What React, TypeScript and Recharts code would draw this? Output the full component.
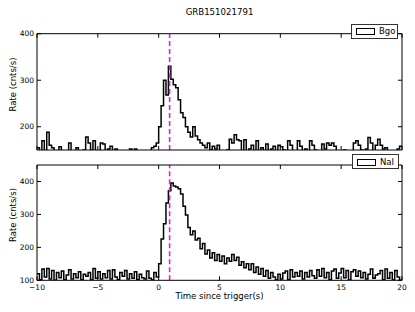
import React from "react";
import { LineChart, Line, XAxis, YAxis, ReferenceLine, Legend } from "recharts";

const BIN_START = -10;
const BIN_WIDTH = 0.2;
const X_END = 20;
const TRIGGER_MARK = 0.9;

const X_TICKS = [-10, -5, 0, 5, 10, 15, 20];
const BGO_Y_TICKS = [200, 300, 400];
const NAI_Y_TICKS = [100, 200, 300, 400];

const BGO = [
  155, 142, 170, 140, 188, 160, 155, 140, 145, 157,
  140, 146, 142, 165, 140, 148, 155, 140, 143, 150,
  178, 165, 150, 170, 145, 142, 165, 163, 145, 152,
  158, 140, 152, 145, 140, 148, 143, 146, 152, 140,
  152, 144, 140, 146, 142, 148, 145, 155, 158, 165,
  200, 245, 300, 268, 330, 302, 290, 284, 258, 230,
  220, 200, 188, 178, 200, 180, 172, 165, 160, 155,
  165, 150, 158, 152, 160, 145, 148, 142, 150, 173,
  165, 183, 172, 170, 148, 172, 145, 152, 160, 145,
  170, 148, 155, 142, 163, 145, 152, 158, 145, 160,
  157, 150, 145, 170, 160, 146, 142, 170, 158, 148,
  152, 146, 170, 160, 150, 148, 144, 163, 152, 165,
  160, 165, 158, 146, 142, 148, 150, 144, 146, 140,
  165, 170, 160, 150, 145, 152, 177, 165, 145, 160,
  173, 160, 152, 155, 148, 145, 142, 148, 152, 158,
];

const NAI = [
  120, 102, 134, 110, 136, 104, 130, 100, 124, 108,
  128, 102, 116, 132, 104, 120, 108, 126, 102, 118,
  112, 124, 102, 136, 106, 126, 104, 120, 108, 130,
  104, 132, 110, 102, 124, 112, 130, 104, 120, 106,
  126, 102, 118, 108, 104, 128, 106, 102, 124, 110,
  150, 225, 272, 335, 372, 395, 386, 383, 378, 362,
  325, 298, 260, 238, 250, 222, 228, 196, 212, 180,
  192, 168, 184, 160, 178, 158, 174, 150, 168, 158,
  178, 160, 170, 146, 156, 138, 150, 132, 150, 124,
  140, 118, 136, 112, 130, 106, 124, 110, 102, 118,
  104, 122, 128, 102, 132, 110, 124, 112, 128, 104,
  124, 110, 130, 114, 106, 132, 112, 136, 108, 124,
  102, 128, 134, 106, 122, 136, 108, 130, 102, 126,
  132, 112, 128, 108, 124, 104, 118, 134, 106, 116,
  120, 130, 102, 134, 106, 124, 102, 130, 110, 100,
];

const rows = BGO.map((b, i) => ({
  t: Math.round((BIN_START + i * BIN_WIDTH) * 10) / 10,
  bgo: b,
  nai: NAI[i],
}));
rows.push({ t: X_END, bgo: BGO[BGO.length - 1], nai: NAI[NAI.length - 1] });

const FONT = "'DejaVu Sans', sans-serif";
const TICK_FS = 7.5;
const LABEL_FS = 8.5;

const fmt = (v: number) => (v < 0 ? "\u2212" + Math.abs(v) : String(v));

const XTickBottom = (props: any) => {
  const { x, y, payload, showLabel } = props;
  return (
    <g>
      <line x1={x} y1={y} x2={x} y2={y - 4} stroke="#000" strokeWidth={1} />
      {showLabel && (
        <text x={x} y={y + 9.5} textAnchor="middle" fontSize={TICK_FS} fontFamily={FONT} fill="#000">
          {fmt(payload.value)}
        </text>
      )}
    </g>
  );
};

const XTickTop = (props: any) => {
  const { x, y } = props;
  return <line x1={x} y1={y} x2={x} y2={y + 4} stroke="#000" strokeWidth={1} />;
};

const YTickLeft = (props: any) => {
  const { x, y, payload } = props;
  return (
    <g>
      <line x1={x} y1={y} x2={x + 4} y2={y} stroke="#000" strokeWidth={1} />
      <text x={x - 3} y={y + 2.7} textAnchor="end" fontSize={TICK_FS} fontFamily={FONT} fill="#000">
        {payload.value}
      </text>
    </g>
  );
};

const YTickRight = (props: any) => {
  const { x, y } = props;
  return <line x1={x} y1={y} x2={x - 4} y2={y} stroke="#000" strokeWidth={1} />;
};

const LegendBox = ({ label }: { label: string }) => (
  <div
    style={{
      border: "1px solid #333",
      background: "#fff",
      width: 47,
      height: 15,
      boxSizing: "border-box",
      position: "relative",
      fontFamily: FONT,
      fontSize: LABEL_FS,
    }}
  >
    <div
      style={{
        position: "absolute",
        left: 4,
        top: 3.5,
        width: 17,
        height: 5,
        border: "1.3px solid #000",
        background: "#fff",
      }}
    />
    <div style={{ position: "absolute", left: 27, top: 1.5, lineHeight: "10px" }}>{label}</div>
  </div>
);

const axisLine = { stroke: "#000", strokeWidth: 1 };

function Panel(props: {
  dataKey: string;
  name: string;
  yDomain: [number, number];
  yTicks: number[];
  height: number;
  margin: any;
  bottomAxisHeight: number;
  showXLabels: boolean;
  legendTop: number;
  legendLeft: number;
}) {
  const { dataKey, name, yDomain, yTicks, height, margin, bottomAxisHeight, showXLabels, legendTop, legendLeft } = props;
  return (
    <LineChart width={415} height={height} data={rows} margin={margin}>
      <XAxis
        dataKey="t"
        type="number"
        domain={[-10, 20]}
        ticks={X_TICKS}
        interval={0}
        allowDataOverflow
        height={bottomAxisHeight}
        tickSize={0}
        tickMargin={0}
        axisLine={axisLine}
        tickLine={false}
        tick={<XTickBottom showLabel={showXLabels} />}
      />
      <XAxis
        xAxisId="top"
        orientation="top"
        dataKey="t"
        type="number"
        domain={[-10, 20]}
        ticks={X_TICKS}
        interval={0}
        allowDataOverflow
        height={1}
        tickSize={0}
        tickMargin={0}
        axisLine={axisLine}
        tickLine={false}
        tick={<XTickTop />}
      />
      <YAxis
        type="number"
        domain={yDomain}
        ticks={yTicks}
        interval={0}
        allowDataOverflow
        width={37}
        tickSize={0}
        tickMargin={0}
        axisLine={axisLine}
        tickLine={false}
        tick={<YTickLeft />}
      />
      <YAxis
        yAxisId="right"
        orientation="right"
        type="number"
        domain={yDomain}
        ticks={yTicks}
        interval={0}
        allowDataOverflow
        width={1}
        tickSize={0}
        tickMargin={0}
        axisLine={axisLine}
        tickLine={false}
        tick={<YTickRight />}
      />
      <Legend
        verticalAlign="top"
        align="right"
        wrapperStyle={{ position: "absolute", top: legendTop, left: legendLeft, width: 47, height: 15 }}
        content={() => <LegendBox label={name} />}
      />
      <Line
        type="stepAfter"
        dataKey={dataKey}
        name={name}
        stroke="#000"
        strokeWidth={1.5}
        dot={false}
        activeDot={false}
        isAnimationActive={false}
      />
      <ReferenceLine
        x={TRIGGER_MARK}
        stroke="#dd22dd"
        strokeWidth={1.6}
        strokeDasharray="5 3"
        ifOverflow="hidden"
      />
    </LineChart>
  );
}

export default function App() {
  return (
    <div style={{ position: "absolute", left: 0, top: 0, width: 415, height: 312, background: "#fff", overflow: "hidden" }}>
      <div style={{ position: "absolute", left: 0, top: 0 }}>
        <Panel
          dataKey="bgo"
          name="Bgo"
          yDomain={[150, 400]}
          yTicks={BGO_Y_TICKS}
          height={151}
          margin={{ top: 17.7, right: 12, left: 0, bottom: 0 }}
          bottomAxisHeight={1}
          showXLabels={false}
          legendTop={23.5}
          legendLeft={351}
        />
      </div>
      <div style={{ position: "absolute", left: 0, top: 149 }}>
        <Panel
          dataKey="nai"
          name="NaI"
          yDomain={[100, 450]}
          yTicks={NAI_Y_TICKS}
          height={163}
          margin={{ top: 0, right: 12, left: 0, bottom: 0 }}
          bottomAxisHeight={31.7}
          showXLabels={true}
          legendTop={5}
          legendLeft={352}
        />
      </div>
      <svg width={415} height={312} style={{ position: "absolute", left: 0, top: 0, pointerEvents: "none" }}>
        <text x={219.5} y={15} textAnchor="middle" fontSize={8.6} fontFamily={FONT} fill="#000">
          GRB151021791
        </text>
        <text x={15.5} y={84.5} textAnchor="middle" fontSize={LABEL_FS} fontFamily={FONT} fill="#000" transform="rotate(-90 15.5 84.5)">
          Rate (cnts/s)
        </text>
        <text x={15.5} y={215} textAnchor="middle" fontSize={LABEL_FS} fontFamily={FONT} fill="#000" transform="rotate(-90 15.5 215)">
          Rate (cnts/s)
        </text>
        <text x={219.5} y={299} textAnchor="middle" fontSize={LABEL_FS} fontFamily={FONT} fill="#000">
          Time since trigger(s)
        </text>
      </svg>
    </div>
  );
}
